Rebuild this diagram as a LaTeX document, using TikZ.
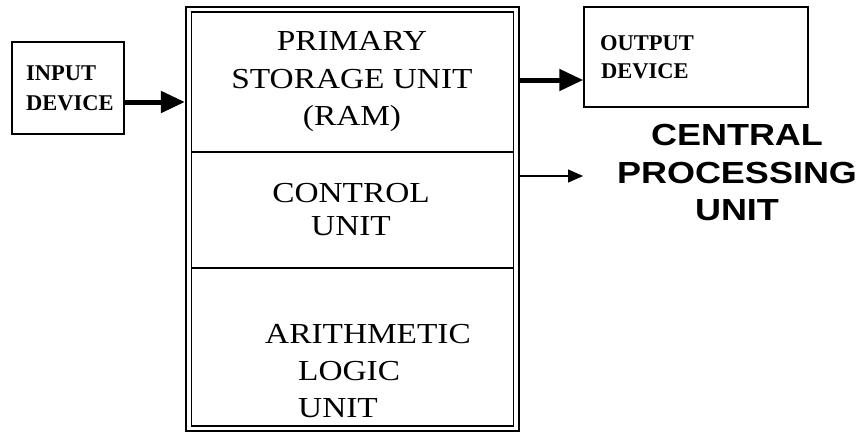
\documentclass[tikz,border=0pt]{standalone}
\usepackage{fontspec}
\usetikzlibrary{arrows.meta}
\newfontfamily\unitfont{Liberation Serif}[FakeStretch=1.15]
\newfontfamily\devfont{Liberation Serif}
\newfontfamily\cpufont{Liberation Sans}[FakeStretch=1.18]
\begin{document}
\begin{tikzpicture}[x=1pt,y=-1pt,
  box/.style={draw,line width=1.5pt,rectangle,inner sep=0pt},
  unittext/.style={inner sep=0pt,font=\unitfont\fontsize{29}{37}\selectfont},
  devtext/.style={inner sep=0pt,anchor=base west,font=\devfont\bfseries\fontsize{22.5}{28}\selectfont},
  cputext/.style={inner sep=0pt,anchor=base,font=\cpufont\bfseries\fontsize{30.5}{38}\selectfont},
  fatarrow/.style={line width=5pt,-{Triangle[length=24pt,width=21pt]}},
  thinarrow/.style={line width=1.5pt,-{Triangle[length=15pt,width=13pt]}}]
\useasboundingbox (0,0) rectangle (860,432);
\fill[white] (0,0) rectangle (860,432);

% input and output devices
\node[box,minimum width=112pt,minimum height=92pt] (inbox) at (68,88) {};
\node[box,minimum width=224pt,minimum height=100pt] (outbox) at (696,57) {};
\node[devtext] (in1) at (26,80) {INPUT};
\node[devtext] (in2) at (26,110) {DEVICE};
\node[devtext] (out1) at (600,50) {OUTPUT};
\node[devtext] (out2) at (601,78) {DEVICE};

% processor: double frame and three sections
\node[draw,line width=2.2pt,inner sep=0pt,minimum width=333pt,minimum height=424pt] (cpu) at (352.5,219) {};
\node[draw,line width=1.6pt,inner sep=0pt,minimum width=322pt,minimum height=414pt] (cpuin) at (352.5,219) {};
\coordinate (d1) at (0,152);
\coordinate (d2) at (0,268);
\draw[line width=1.5pt] (cpuin.west |- d1) -- (cpuin.east |- d1);
\draw[line width=1.5pt] (cpuin.west |- d2) -- (cpuin.east |- d2);

\node[unittext,anchor=base] (ram1) at (352,50) {PRIMARY};
\node[unittext,anchor=base] (ram2) at (352,88) {STORAGE UNIT};
\node[unittext,anchor=base] (ram3) at (352,125) {(RAM)};
\node[unittext,anchor=base] (cu1) at (351,202) {CONTROL};
\node[unittext,anchor=base] (cu2) at (351,235) {UNIT};
\node[unittext,anchor=base west] (alu1) at (265,343) {ARITHMETIC};
\node[unittext,anchor=base west] (alu2) at (298,380) {LOGIC};
\node[unittext,anchor=base west] (alu3) at (298,417) {UNIT};

% heading
\node[cputext] (cpu1) at (737,145) {CENTRAL};
\node[cputext] (cpu2) at (737,183) {PROCESSING};
\node[cputext] (cpu3) at (737,220) {UNIT};

% connectors
\coordinate (ya) at (0,102);
\coordinate (yb) at (0,80);
\coordinate (yc) at (0,176);
\coordinate (cend) at (583,176);
\draw[fatarrow] (inbox.east |- ya) -- (cpu.west |- ya);
\draw[fatarrow] (cpu.east |- yb) -- (outbox.west |- yb);
\draw[thinarrow] (cpu.east |- yc) -- (cend);
\end{tikzpicture}
\end{document}
